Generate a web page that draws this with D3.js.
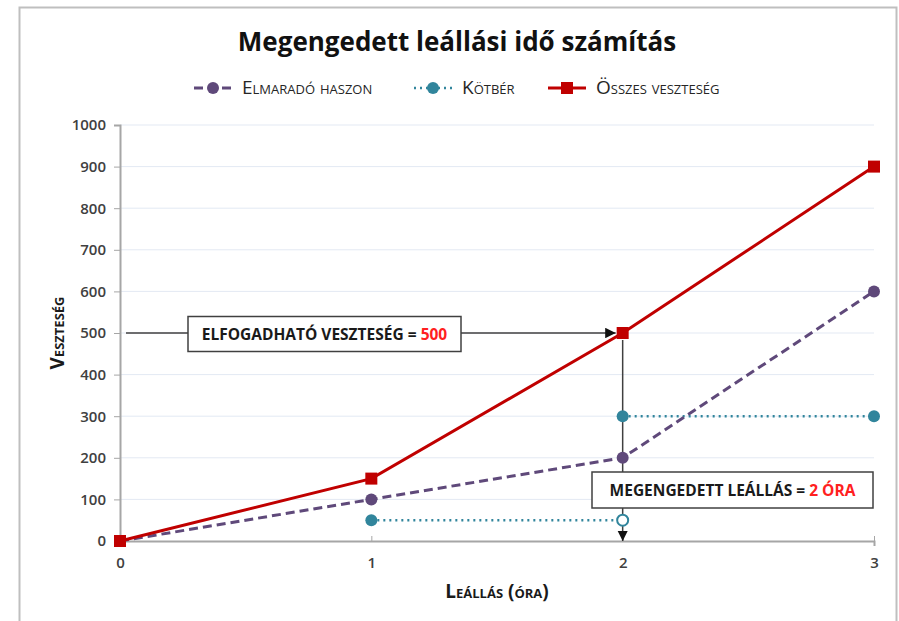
<!DOCTYPE html>
<html>
<head>
<meta charset="utf-8">
<script src="https://cdn.jsdelivr.net/npm/d3@7"></script>
<style>
  body { margin: 0; background: #fff; }
  text { font-family: "Open Sans", "Noto Sans", sans-serif; }
</style>
</head>
<body>
<script>
// DATA
var hours = [0, 1, 2, 3];
var elmaradoHaszon = [0, 100, 200, 600];
var osszesVeszteseg = [0, 150, 500, 900];
// kötbér is a step: two separate segments
var kotberLowX = [1, 2], kotberLowY = [50, 50];
var kotberHighX = [2, 3], kotberHighY = [300, 300];
var yTicks = [0, 100, 200, 300, 400, 500, 600, 700, 800, 900, 1000];
var xTicks = [0, 1, 2, 3];
var seriesNames = ["Elmaradó haszon", "Kötbér", "Összes veszteség"];
var acceptableLoss = 500, allowedDowntime = 2;

// INPUTS
var width = 899, height = 621;
var plot = { left: 120, right: 874, top: 125, bottom: 541 };
var purple = "#5f497a", teal = "#31859c", red = "#c00000";

var svg = d3.select("body").append("svg")
  .attr("width", width)
  .attr("height", height);

// frame
svg.append("rect")
  .attr("x", 19.5).attr("y", 7.5)
  .attr("width", 877).attr("height", 640)
  .attr("fill", "#fff")
  .attr("stroke", "#bfbfbf")
  .attr("stroke-width", 2);

var x = d3.scaleLinear().domain([0, 3]).range([plot.left, plot.right]);
var y = d3.scaleLinear().domain([0, 1000]).range([plot.bottom, plot.top]);

// gridlines
svg.append("g").selectAll("line")
  .data(yTicks.slice(1))
  .enter().append("line")
  .attr("x1", plot.left).attr("x2", plot.right)
  .attr("y1", function (d) { return y(d); })
  .attr("y2", function (d) { return y(d); })
  .attr("stroke", "#e3e9f3")
  .attr("stroke-width", 1);

// y axis
var yAxis = svg.append("g")
  .attr("transform", "translate(" + plot.left + ",0)")
  .call(d3.axisLeft(y).tickValues(yTicks).tickFormat(d3.format("d")).tickSize(6).tickPadding(8));
yAxis.select(".domain").attr("stroke", "#a6a6a6").attr("stroke-width", 2);
yAxis.selectAll(".tick line").attr("stroke", "#a6a6a6");
yAxis.selectAll("text")
  .attr("fill", "#404040")
  .style("font-size", "15px")
  .style("font-weight", "600");

// x axis
var xAxis = svg.append("g")
  .attr("transform", "translate(0," + plot.bottom + ")")
  .call(d3.axisBottom(x).tickValues(xTicks).tickFormat(d3.format("d")).tickSize(5).tickPadding(11));
xAxis.select(".domain").attr("stroke", "#a6a6a6").attr("stroke-width", 2);
xAxis.selectAll(".tick line").attr("stroke", "#a6a6a6").attr("transform", "translate(0,-5)");
xAxis.selectAll("text")
  .attr("fill", "#404040")
  .style("font-size", "15px")
  .style("font-weight", "600");

// axis titles
svg.append("text")
  .attr("transform", "translate(64," + y(500) + ") rotate(-90)")
  .attr("text-anchor", "middle")
  .style("font-variant", "small-caps")
  .style("font-weight", "bold")
  .style("font-size", "19px")
  .attr("fill", "#1a1a1a")
  .text("Veszteség");

svg.append("text")
  .attr("x", (plot.left + plot.right) / 2)
  .attr("y", 598)
  .attr("text-anchor", "middle")
  .style("font-variant", "small-caps")
  .style("font-weight", "bold")
  .style("font-size", "19px")
  .attr("fill", "#1a1a1a")
  .text("Leállás (óra)");

// title
svg.append("text")
  .attr("x", 457).attr("y", 51)
  .attr("text-anchor", "middle")
  .style("font-weight", "bold")
  .style("font-size", "26px")
  .attr("fill", "#111")
  .text("Megengedett leállási idő számítás");

// arrow marker
svg.append("defs").append("marker")
  .attr("id", "arrow")
  .attr("viewBox", "0 0 10 10")
  .attr("refX", 10).attr("refY", 5)
  .attr("markerWidth", 7).attr("markerHeight", 7)
  .attr("orient", "auto")
  .append("path")
  .attr("d", "M0,0 L10,5 L0,10 Z")
  .attr("fill", "#111");

// annotation lines
svg.append("line")
  .attr("x1", plot.left + 6).attr("x2", x(allowedDowntime) - 7)
  .attr("y1", y(acceptableLoss)).attr("y2", y(acceptableLoss))
  .attr("stroke", "#404040").attr("stroke-width", 1.5)
  .attr("marker-end", "url(#arrow)");

svg.append("line")
  .attr("x1", x(allowedDowntime)).attr("x2", x(allowedDowntime))
  .attr("y1", y(acceptableLoss) + 7).attr("y2", plot.bottom)
  .attr("stroke", "#404040").attr("stroke-width", 1.5)
  .attr("marker-end", "url(#arrow)");

var line = d3.line()
  .x(function (d) { return x(d[0]); })
  .y(function (d) { return y(d[1]); });

// series
var kLow = d3.zip(kotberLowX, kotberLowY);
var kHigh = d3.zip(kotberHighX, kotberHighY);
[kLow, kHigh].forEach(function (seg) {
  svg.append("path")
    .attr("d", line(seg))
    .attr("fill", "none")
    .attr("stroke", teal)
    .attr("stroke-width", 2.5)
    .attr("stroke-dasharray", "2,4");
});

var ehPts = d3.zip(hours, elmaradoHaszon);
svg.append("path")
  .attr("d", line(ehPts))
  .attr("fill", "none")
  .attr("stroke", purple)
  .attr("stroke-width", 3)
  .attr("stroke-dasharray", "9,5");

var ovPts = d3.zip(hours, osszesVeszteseg);
svg.append("path")
  .attr("d", line(ovPts))
  .attr("fill", "none")
  .attr("stroke", red)
  .attr("stroke-width", 3);

// markers
svg.append("g").selectAll("circle")
  .data(ehPts)
  .enter().append("circle")
  .attr("cx", function (d) { return x(d[0]); })
  .attr("cy", function (d) { return y(d[1]); })
  .attr("r", 6)
  .attr("fill", purple);

var kPts = kLow.map(function (d, i) { return { p: d, open: i === 1 }; })
  .concat(kHigh.map(function (d) { return { p: d, open: false }; }));
svg.append("g").selectAll("circle")
  .data(kPts)
  .enter().append("circle")
  .attr("cx", function (d) { return x(d.p[0]); })
  .attr("cy", function (d) { return y(d.p[1]); })
  .attr("r", function (d) { return d.open ? 5.5 : 6; })
  .attr("fill", function (d) { return d.open ? "#fff" : teal; })
  .attr("stroke", teal)
  .attr("stroke-width", function (d) { return d.open ? 2 : 0; });

svg.append("g").selectAll("rect")
  .data(ovPts)
  .enter().append("rect")
  .attr("x", function (d) { return x(d[0]) - 6; })
  .attr("y", function (d) { return y(d[1]) - 6; })
  .attr("width", 12).attr("height", 12)
  .attr("fill", red);

// annotation boxes
function labelBox(cx, cy, w, h, txt, val) {
  svg.append("rect")
    .attr("x", cx - w / 2).attr("y", cy - h / 2)
    .attr("width", w).attr("height", h)
    .attr("fill", "#fff")
    .attr("stroke", "#404040")
    .attr("stroke-width", 1.5);
  var t = svg.append("text")
    .attr("x", cx).attr("y", cy + 5.5)
    .attr("text-anchor", "middle")
    .style("font-weight", "bold")
    .style("font-size", "15.5px")
    .attr("fill", "#1a1a1a");
  t.append("tspan").text(txt);
  t.append("tspan").attr("fill", "#ff2020").text(val);
}
labelBox(324.5, 334, 273, 35, "ELFOGADHATÓ VESZTESÉG = ", acceptableLoss);
labelBox(732.5, 490, 281, 36, "MEGENGEDETT LEÁLLÁS = ", allowedDowntime + " ÓRA");

// legend
var legend = svg.append("g");
var legendX = [194, 414, 548];
var legendTextX = [242, 462, 596];
var legendY = 88;
// purple
legend.append("line").attr("x1", legendX[0]).attr("x2", legendX[0] + 38)
  .attr("y1", legendY).attr("y2", legendY)
  .attr("stroke", purple).attr("stroke-width", 3).attr("stroke-dasharray", "9,5");
legend.append("circle").attr("cx", legendX[0] + 19).attr("cy", legendY).attr("r", 6).attr("fill", purple);
// teal
legend.append("line").attr("x1", legendX[1]).attr("x2", legendX[1] + 38)
  .attr("y1", legendY).attr("y2", legendY)
  .attr("stroke", teal).attr("stroke-width", 2.5).attr("stroke-dasharray", "2,4");
legend.append("circle").attr("cx", legendX[1] + 19).attr("cy", legendY).attr("r", 6).attr("fill", teal);
// red
legend.append("line").attr("x1", legendX[2]).attr("x2", legendX[2] + 38)
  .attr("y1", legendY).attr("y2", legendY)
  .attr("stroke", red).attr("stroke-width", 3);
legend.append("rect").attr("x", legendX[2] + 13).attr("y", legendY - 6)
  .attr("width", 12).attr("height", 12).attr("fill", red);

legend.selectAll("text")
  .data(seriesNames)
  .enter().append("text")
  .attr("x", function (d, i) { return legendTextX[i]; })
  .attr("y", legendY + 6)
  .style("font-variant", "small-caps")
  .style("font-size", "19px")
  .attr("fill", "#262626")
  .text(function (d) { return d; });
</script>
</body>
</html>
